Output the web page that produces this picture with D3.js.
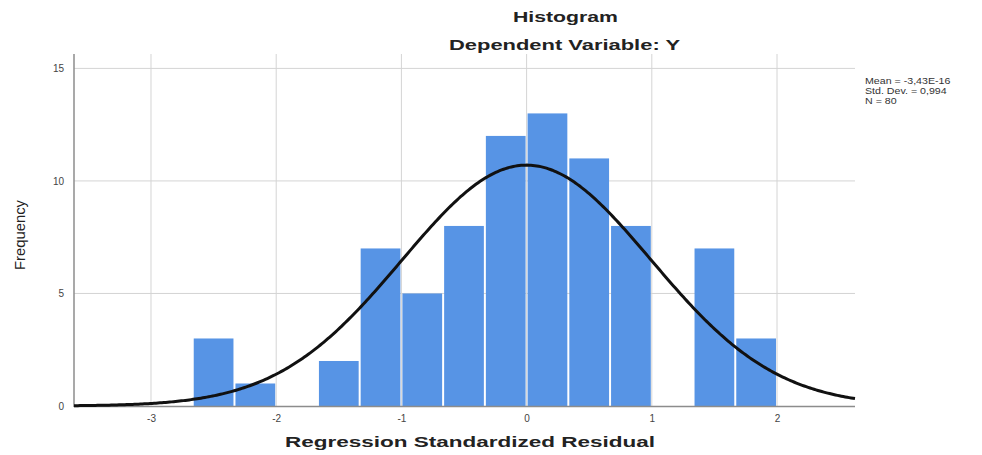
<!DOCTYPE html>
<html><head><meta charset="utf-8">
<script src="https://cdn.jsdelivr.net/npm/d3@7"></script>
<style>body{margin:0;background:#fff}svg{display:block}</style>
</head><body>
<svg id="c" width="982" height="455"></svg>
<script>
const binStarts = [-8/3,-7/3,-2,-5/3,-4/3,-1,-2/3,-1/3,0,1/3,2/3,1,4/3,5/3];
const binWidth = 1/3;
const counts = [3,1,0,2,7,5,8,12,13,11,8,0,7,3];
const xTicks = [-3,-2,-1,0,1,2];
const yTicks = [0,5,10,15];
const stats = ["Mean = -3,43E-16","Std. Dev. = 0,994","N = 80"];
const meanV = -3.43e-16, sdV = 0.994, nV = 80;

const svg = d3.select("#c");
const L=74,R=855,T=54,B=406;
const x = d3.scaleLinear().domain([-3.615,2.623]).range([L,R]);
const y = d3.scaleLinear().domain([0,15.64]).range([B,T]);

// grid
svg.append("g").selectAll("line").data(xTicks).join("line")
  .attr("x1",d=>x(d)).attr("x2",d=>x(d)).attr("y1",T).attr("y2",B)
  .attr("stroke","#d4d4d4").attr("stroke-width",1);
svg.append("g").selectAll("line").data(yTicks.filter(d=>d>0)).join("line")
  .attr("x1",L).attr("x2",R).attr("y1",d=>y(d)).attr("y2",d=>y(d))
  .attr("stroke","#d4d4d4").attr("stroke-width",1);

// bars
svg.append("g").selectAll("rect").data(binStarts.map((s,i)=>({s,c:counts[i]})).filter(d=>d.c>0)).join("rect")
  .attr("x",d=>x(d.s)+1).attr("width",d=>x(d.s+binWidth)-x(d.s)-2)
  .attr("y",d=>y(d.c)).attr("height",d=>y(0)-y(d.c))
  .attr("fill","#5794e5");

// axes lines
svg.append("line").attr("x1",L).attr("x2",L).attr("y1",T).attr("y2",B+1).attr("stroke","#8c8c8c").attr("stroke-width",1.5);
svg.append("line").attr("x1",L).attr("x2",R).attr("y1",B+0.5).attr("y2",B+0.5).attr("stroke","#8c8c8c").attr("stroke-width",1.5);

// tick labels
const f = "Liberation Sans, Arial, sans-serif";
const xa = d3.axisBottom(x).tickValues(xTicks).tickFormat(d=>String(d)).tickSize(0).tickPadding(9);
const gx = svg.append("g").attr("transform",`translate(0,${B})`).call(xa);
gx.select(".domain").remove();
gx.selectAll("text").attr("font-family",f).attr("font-size",10).attr("fill","#444");
const ya = d3.axisLeft(y).tickValues(yTicks).tickFormat(d=>String(d)).tickSize(0).tickPadding(10);
const gy = svg.append("g").attr("transform",`translate(${L},0)`).call(ya);
gy.select(".domain").remove();
gy.selectAll("text").attr("font-family",f).attr("font-size",10).attr("fill","#444");

// normal curve
const pdf = v => nV*binWidth*Math.exp(-0.5*((v-meanV)/sdV)**2)/(sdV*Math.sqrt(2*Math.PI));
const xs = d3.range(0,401).map(i=>-3.615+i*(2.623+3.615)/400);
svg.append("path").datum(xs)
  .attr("d",d3.line().x(d=>x(d)).y(d=>y(pdf(d))))
  .attr("fill","none").attr("stroke","#111").attr("stroke-width",3);

// titles
svg.append("text").attr("x",513).attr("y",22).attr("font-family",f).attr("font-weight","bold")
  .attr("font-size",15).attr("textLength",105).attr("lengthAdjust","spacingAndGlyphs").attr("fill","#222").text("Histogram");
svg.append("text").attr("x",449).attr("y",50).attr("font-family",f).attr("font-weight","bold")
  .attr("font-size",15).attr("textLength",231).attr("lengthAdjust","spacingAndGlyphs").attr("fill","#222").text("Dependent Variable: Y");
svg.append("text").attr("x",285).attr("y",447).attr("font-family",f).attr("font-weight","bold")
  .attr("font-size",15).attr("textLength",370).attr("lengthAdjust","spacingAndGlyphs").attr("fill","#222").text("Regression Standardized Residual");
svg.append("text").attr("transform","translate(25,235) rotate(-90)").attr("text-anchor","middle")
  .attr("font-family",f).attr("font-size",15).attr("textLength",70).attr("lengthAdjust","spacingAndGlyphs").attr("fill","#222").text("Frequency");

// stats
svg.append("g").attr("transform","translate(865,0) scale(1.12,1)").selectAll("text").data(stats).join("text")
  .attr("x",0).attr("y",(d,i)=>84+i*10).attr("font-family",f).attr("font-size",9.5)
  .attr("fill","#333").text(d=>d);
</script>
</body></html>
